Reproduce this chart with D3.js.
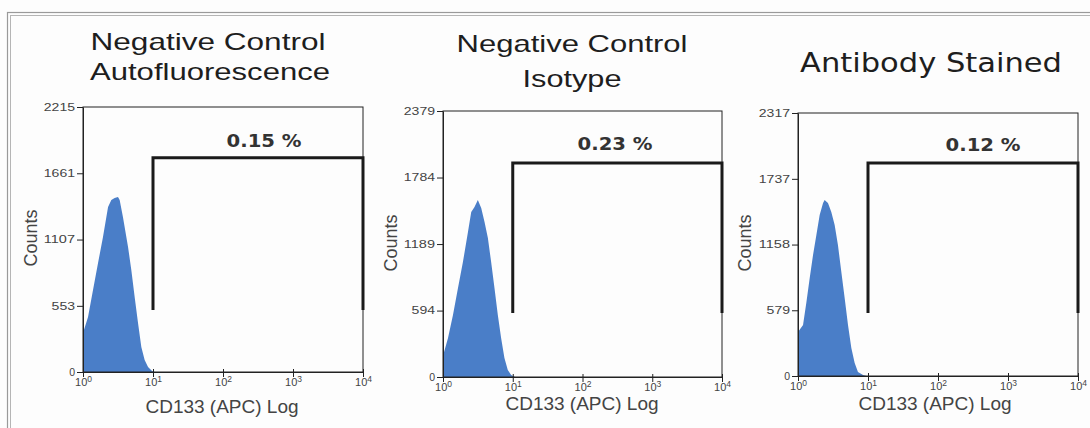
<!DOCTYPE html>
<html>
<head>
<meta charset="utf-8">
<script src="https://cdn.jsdelivr.net/npm/d3@7"></script>
<style>
  html, body { margin: 0; padding: 0; background: #fdfdfd; }
  svg { display: block; }
</style>
</head>
<body>
<div id="chart"></div>
<script>
// ── Data ─────────────────────────────────────────────────────────────────
const panelTitles = [
  ["Negative Control", "Autofluorescence"],
  ["Negative Control", "Isotype"],
  ["Antibody Stained"],
];
const yMaxValues = [2215, 2379, 2317];
const yTickValues = [
  [0, 553, 1107, 1661, 2215],
  [0, 594, 1189, 1784, 2379],
  [0, 579, 1158, 1737, 2317],
];
const xTickValues = [1, 10, 100, 1000, 10000];
const gateLabels = ["0.15 %", "0.23 %", "0.12 %"];
const gateFrom = [10, 10, 10];
const gateTo = [10000, 10000, 10000];
const gateLow = [518, 572, 555];
const gateHigh = [1790, 1913, 1877];

// intensity (CD133 APC) and counts for each histogram
const intensity1 = [1.0, 1.18, 1.39, 1.64, 1.93, 2.28, 2.54, 2.83, 3.16, 3.34, 3.72, 4.4, 4.9, 5.47, 6.11, 6.81, 7.6, 8.49, 9.68, 10.6];
const counts1 = [326, 460, 686, 911, 1129, 1380, 1438, 1455, 1463, 1438, 1296, 1045, 853, 627, 410, 209, 100, 42, 8, 0];
const intensity2 = [1.0, 1.18, 1.39, 1.64, 1.93, 2.28, 2.54, 2.83, 3.16, 3.53, 3.94, 4.4, 4.9, 5.47, 6.11, 6.81, 7.6, 8.49, 9.47, 10.8];
const counts2 = [190, 349, 554, 796, 1028, 1296, 1475, 1520, 1582, 1511, 1386, 1243, 1028, 796, 554, 349, 170, 63, 18, 0];
const intensity3 = [1.0, 1.18, 1.32, 1.47, 1.64, 1.83, 2.04, 2.28, 2.4, 2.68, 2.99, 3.34, 3.72, 4.16, 4.64, 5.18, 5.78, 6.45, 7.19, 8.49, 9.47];
const counts3 = [388, 449, 652, 863, 1066, 1242, 1418, 1524, 1550, 1524, 1445, 1330, 1154, 916, 687, 449, 247, 115, 35, 9, 0];

const intensities = [intensity1, intensity2, intensity3];
const countSeries = [counts1, counts2, counts3];

// ── Layout (pixels) ──────────────────────────────────────────────────────
const layout = [
  {
    left: 83, right: 363, top: 107, bottom: 372,
    titles: [
      { x: 208, y: 50, w: 235 },
      { x: 210, y: 80, w: 240 },
    ],
    titleFont: "Liberation Sans, Arial, sans-serif", titleSize: 24,
    labelX: 264, labelY: 147,
    countsX: 31, countsY: 238,
    xLabelX: 222, xLabelY: 413,
  },
  {
    left: 443, right: 722, top: 111, bottom: 377,
    titles: [
      { x: 572, y: 52, w: 231 },
      { x: 572, y: 87, w: 99 },
    ],
    titleFont: "Liberation Sans, Arial, sans-serif", titleSize: 24,
    labelX: 615, labelY: 150,
    countsX: 391, countsY: 243,
    xLabelX: 582, xLabelY: 410,
  },
  {
    left: 798, right: 1078, top: 113, bottom: 376,
    titles: [{ x: 931, y: 72, w: 262 }],
    titleFont: "DejaVu Sans, sans-serif", titleSize: 27,
    labelX: 983, labelY: 151,
    countsX: 745, countsY: 243,
    xLabelX: 935, xLabelY: 410,
  },
];

const W = 1090;
const H = 428;
const HIST_COLOR = "#4a7ec8";

function renderFlowPanels(selector) {
  const container = d3.select(selector);
  container.selectAll("*").remove();

  const svg = container
    .append("svg")
    .attr("width", W)
    .attr("height", H)
    .style("background", "#fdfdfd");

  // ── Outer frame (double line) ──────────────────────────────────────────
  svg.append("rect")
    .attr("x", 7.5).attr("y", 12.5)
    .attr("width", W + 20).attr("height", H + 20)
    .attr("fill", "none")
    .attr("stroke", "#9a9a9a")
    .attr("stroke-width", 1.2);
  svg.append("rect")
    .attr("x", 10.5).attr("y", 15.5)
    .attr("width", W + 20).attr("height", H + 20)
    .attr("fill", "none")
    .attr("stroke", "#b5b5b5")
    .attr("stroke-width", 1);

  layout.forEach((L, i) => {
    const g = svg.append("g").attr("class", `panel panel-${i}`);

    // ── Scales ───────────────────────────────────────────────────────────
    const x = d3.scaleLog().domain([1, 10000]).range([L.left, L.right]);
    const y = d3.scaleLinear().domain([0, yMaxValues[i]]).range([L.bottom, L.top]);

    // ── Histogram ────────────────────────────────────────────────────────
    const pts = intensities[i].map((v, k) => ({ v, c: countSeries[i][k] }));
    const area = d3.area()
      .x((d) => x(d.v))
      .y0(y(0))
      .y1((d) => y(d.c))
      .curve(d3.curveLinear);

    g.append("path")
      .datum(pts)
      .attr("d", area)
      .attr("fill", HIST_COLOR);

    // ── Plot frame ───────────────────────────────────────────────────────
    g.append("rect")
      .attr("x", L.left).attr("y", L.top)
      .attr("width", L.right - L.left)
      .attr("height", L.bottom - L.top)
      .attr("fill", "none")
      .attr("stroke", "#222")
      .attr("stroke-width", 1);

    // ── Axes ─────────────────────────────────────────────────────────────
    const yAxis = g.append("g")
      .attr("transform", `translate(${L.left},0)`)
      .call(
        d3.axisLeft(y)
          .tickValues(yTickValues[i])
          .tickFormat(d3.format("d"))
          .tickSize(6)
          .tickSizeOuter(0)
          .tickPadding(2),
      );
    yAxis.select(".domain").attr("stroke", "#222");
    yAxis.selectAll(".tick line").attr("stroke", "#222");
    yAxis.selectAll(".tick text")
      .attr("fill", "#444")
      .style("font-family", "Liberation Sans, Arial, sans-serif")
      .style("font-size", "10.5px")
      .each(function (d) {
        const s = String(d);
        if (s.length > 1) {
          d3.select(this)
            .attr("textLength", s.length * 7.8)
            .attr("lengthAdjust", "spacingAndGlyphs");
        }
      });

    const xAxis = g.append("g")
      .attr("transform", `translate(0,${L.bottom})`)
      .call(
        d3.axisBottom(x)
          .tickValues(xTickValues)
          .tickSize(5)
          .tickSizeOuter(0)
          .tickPadding(1)
          .tickFormat(() => ""),
      );
    xAxis.select(".domain").attr("stroke", "#222");
    xAxis.selectAll(".tick line").attr("stroke", "#222").attr("y1", -3);
    xAxis.selectAll(".tick text")
      .attr("fill", "#444")
      .style("font-family", "Liberation Sans, Arial, sans-serif")
      .style("font-size", "11px")
      .each(function (d) {
        const t = d3.select(this);
        t.text("10");
        t.append("tspan")
          .attr("dy", "-4")
          .style("font-size", "8.5px")
          .text(Math.round(Math.log10(d)));
      });

    // ── Gate ─────────────────────────────────────────────────────────────
    const gatePath = d3.path();
    gatePath.moveTo(x(gateFrom[i]), y(gateLow[i]));
    gatePath.lineTo(x(gateFrom[i]), y(gateHigh[i]));
    gatePath.lineTo(x(gateTo[i]), y(gateHigh[i]));
    gatePath.lineTo(x(gateTo[i]), y(gateLow[i]));

    g.append("path")
      .attr("d", gatePath.toString())
      .attr("fill", "none")
      .attr("stroke", "#1a1a1a")
      .attr("stroke-width", 3);

    g.append("text")
      .attr("x", L.labelX)
      .attr("y", L.labelY)
      .attr("text-anchor", "middle")
      .attr("fill", "#333")
      .style("font-family", "DejaVu Sans, sans-serif")
      .style("font-weight", "bold")
      .style("font-size", "17px")
      .attr("textLength", 75)
      .attr("lengthAdjust", "spacingAndGlyphs")
      .text(gateLabels[i]);

    // ── Titles ───────────────────────────────────────────────────────────
    panelTitles[i].forEach((line, k) => {
      const T = L.titles[k];
      g.append("text")
        .attr("x", T.x)
        .attr("y", T.y)
        .attr("text-anchor", "middle")
        .attr("fill", "#1e1e1e")
        .style("font-family", L.titleFont)
        .style("font-size", `${L.titleSize}px`)
        .attr("textLength", T.w)
        .attr("lengthAdjust", "spacingAndGlyphs")
        .text(line);
    });

    // ── Axis labels ──────────────────────────────────────────────────────
    g.append("text")
      .attr("transform", `translate(${L.countsX},${L.countsY}) rotate(-90)`)
      .attr("text-anchor", "middle")
      .attr("dy", "0.35em")
      .attr("fill", "#444")
      .style("font-family", "Liberation Sans, Arial, sans-serif")
      .style("font-size", "18px")
      .text("Counts");

    g.append("text")
      .attr("x", L.xLabelX)
      .attr("y", L.xLabelY)
      .attr("text-anchor", "middle")
      .attr("fill", "#444")
      .style("font-family", "Liberation Sans, Arial, sans-serif")
      .style("font-size", "19px")
      .text("CD133 (APC) Log");
  });
}

// ── Render Chart ─────────────────────────────────────────────────────────
renderFlowPanels("#chart");
</script>
</body>
</html>
